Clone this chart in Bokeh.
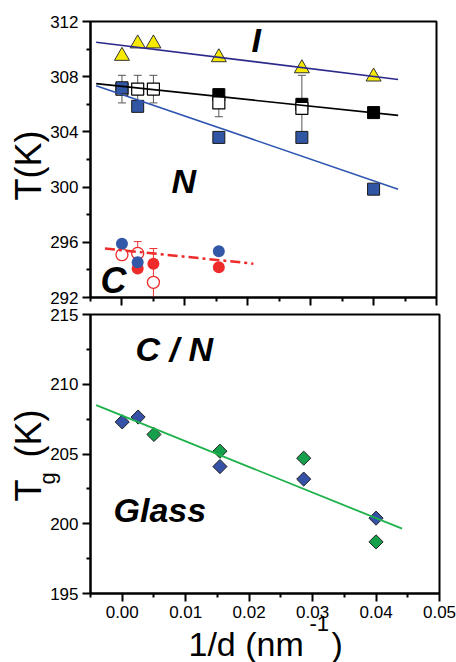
import numpy as np
from bokeh.plotting import figure
from bokeh.models import Range1d, FixedTicker, Label, GridBox, Plot
from bokeh.embed import file_html
from bokeh.resources import INLINE

# ---------------- data ----------------
x_I = [0.0, 0.0025, 0.005, 0.0154, 0.0286, 0.04]
T_I = [309.5, 310.4, 310.4, 309.4, 308.6, 308.0]

x_N = [0.0, 0.0025, 0.0154, 0.0286, 0.04]
T_N = [307.2, 305.85, 303.6, 303.6, 299.85]

x_open = [0.0, 0.0025, 0.005, 0.0154, 0.0286]
T_open = [307.1, 307.1, 307.1, 306.1, 305.7]
err_open = [1.0, 1.0, 1.0, 1.0, 2.4]

x_black = [0.0154, 0.0286, 0.04]
T_black = [306.7, 306.0, 305.4]

x_Cblue = [0.0, 0.0025, 0.0154]
T_Cblue = [295.9, 294.55, 295.35]
x_Cred = [0.0025, 0.005, 0.0154]
T_Cred = [294.1, 294.45, 294.2]
x_Copen = [0.0, 0.0025, 0.005]
T_Copen = [295.1, 295.2, 293.1]
err_Copen = [0.0, 0.85, 2.45]

fit_x = [-0.0041, 0.0439]
fit_I = [310.5, 307.8]
fit_black = [307.5, 305.2]
fit_N = [307.35, 299.85]
fit_C_x = [-0.0027, 0.0209]
fit_C = [295.55, 294.45]

x_Gblue = [0.0, 0.0025, 0.0154, 0.0286, 0.04]
Tg_blue = [207.3, 207.65, 204.1, 203.2, 200.4]
x_Ggreen = [0.005, 0.0154, 0.0286, 0.04]
Tg_green = [206.4, 205.2, 204.7, 198.7]
fit_g_x = [-0.0041, 0.0441]
fit_g = [208.5, 199.65]

x_ticks = [0.0, 0.01, 0.02, 0.03, 0.04, 0.05]
x_minor = [-0.005, 0.005, 0.015, 0.025, 0.035, 0.045]
x_tick_labels = ["0.00", "0.01", "0.02", "0.03", "0.04", "0.05"]
top_y_ticks = [292, 296, 300, 304, 308, 312]
top_y_minor = [294, 298, 302, 306, 310]
bot_y_ticks = [195, 200, 205, 210, 215]
bot_y_minor = [197.5, 202.5, 207.5, 212.5]

FONT = "Liberation Sans"
W, H = 456, 662
HAS_FRAME_ALIGN = "frame_align" in Plot.properties()


def no_align(p):
    if HAS_FRAME_ALIGN:
        p.frame_align = False


def style_axes(p):
    for ax in (p.xaxis[0], p.yaxis[0]):
        ax.axis_line_width = 2
        ax.axis_line_color = "black"
        ax.major_tick_line_width = 2
        ax.minor_tick_line_width = 2
        ax.major_tick_in = 0
        ax.major_tick_out = 8
        ax.minor_tick_in = 0
        ax.minor_tick_out = 4
        ax.major_label_text_font = FONT
        ax.major_label_text_font_size = "17px"
        ax.major_label_text_color = "black"
    p.xgrid.visible = False
    p.ygrid.visible = False
    p.outline_line_color = "black"
    p.outline_line_width = 2
    p.background_fill_color = "white"
    no_align(p)


# ---------------- top panel (bottom layer, full page canvas) ----------------
p1 = figure(width=W, height=H, x_range=Range1d(-0.005, 0.05),
            y_range=Range1d(292, 312), output_backend="svg",
            toolbar_location=None, min_border_left=90, min_border_right=20,
            min_border_top=21, min_border_bottom=H - 21 - 276)
style_axes(p1)
p1.border_fill_color = "white"
p1.xaxis.ticker = FixedTicker(ticks=x_ticks, minor_ticks=x_minor)
p1.xaxis.major_label_overrides = {t: "" for t in x_ticks}
p1.xaxis.major_label_standoff = 0
p1.yaxis.ticker = FixedTicker(ticks=top_y_ticks, minor_ticks=top_y_minor)
p1.yaxis.major_label_standoff = 4

# error bars of open squares
lo = [t - e for t, e in zip(T_open, err_open)]
hi = [t + e for t, e in zip(T_open, err_open)]
p1.segment(x0=x_open, y0=lo, x1=x_open, y1=hi, line_color="#555555", line_width=1)
p1.scatter(x=x_open + x_open, y=lo + hi, marker="dash", size=8,
           line_color="#555555", line_width=1)

p1.scatter(x=x_black, y=T_black, marker="square", size=12,
           fill_color="black", line_color="black")
p1.scatter(x=x_open, y=T_open, marker="square", size=12,
           fill_color="white", line_color="black", line_width=1.2)
p1.scatter(x=x_N, y=T_N, marker="square", size=12,
           fill_color="#3156a4", line_color="#1a1a1a", line_width=1)
p1.scatter(x=x_I, y=T_I, marker="triangle", size=15,
           fill_color="#f7ea00", line_color="#333333", line_width=1)

# C phase points
clo = [t - e for t, e in zip(T_Copen, err_Copen)]
chi = [t + e for t, e in zip(T_Copen, err_Copen)]
p1.segment(x0=x_Copen[1:], y0=clo[1:], x1=x_Copen[1:], y1=chi[1:],
           line_color="#ee3333", line_width=1)
p1.scatter(x=x_Copen[1:] + x_Copen[1:], y=clo[1:] + chi[1:], marker="dash",
           size=8, line_color="#ee3333", line_width=1)
p1.scatter(x=x_Cred, y=T_Cred, marker="circle", size=12,
           fill_color="#ee2a2a", line_color=None)
p1.scatter(x=x_Copen, y=T_Copen, marker="circle", size=12,
           fill_color="white", line_color="#ee2a2a", line_width=1.3)
p1.scatter(x=x_Cblue, y=T_Cblue, marker="circle", size=12,
           fill_color="#3358a8", line_color=None)

# fit lines
p1.line(x=fit_x, y=fit_I, line_color="#2b2a8c", line_width=1.6)
p1.line(x=fit_x, y=fit_black, line_color="black", line_width=1.6)
p1.line(x=fit_x, y=fit_N, line_color="#2d55b0", line_width=1.6)
p1.line(x=fit_C_x, y=fit_C, line_color="#ee2a2a", line_width=2.5,
        line_dash="10 4 3 4")


def t_xy(px, py):
    return (-0.005 + (px - 90) * 0.055 / 346.0, 312 - (py - 21) * 20 / 276.0)


def b_xy(px, py):
    return (-0.005 + (px - 90) * 0.055 / 349.0, 215 - (py - 314) * 20 / 279.0)


def add_label(p, conv, px, py, text, size, style="bold italic", angle=0.0):
    x, y = conv(px, py)
    p.add_layout(Label(x=x, y=y, text=text, text_font=FONT,
                       text_font_size=size, text_font_style=style,
                       text_color="black", text_baseline="middle",
                       text_align="left", angle=angle))


add_label(p1, t_xy, 251, 39, "I", "34px")
add_label(p1, t_xy, 171, 180, "N", "34px")
add_label(p1, t_xy, 100, 280, "C", "36px")

# ---------------- bottom panel (transparent border, full page canvas) ----------------
p2 = figure(width=W, height=H, x_range=Range1d(-0.005, 0.05),
            y_range=Range1d(195, 215), output_backend="svg",
            toolbar_location=None, min_border_left=90, min_border_right=17,
            min_border_top=314, min_border_bottom=H - 314 - 279)
style_axes(p2)
p2.border_fill_color = None
p2.xaxis.ticker = FixedTicker(ticks=x_ticks, minor_ticks=x_minor)
p2.xaxis.major_label_overrides = {t: l for t, l in zip(x_ticks, x_tick_labels)}
p2.xaxis.major_label_standoff = 4
p2.yaxis.ticker = FixedTicker(ticks=bot_y_ticks, minor_ticks=bot_y_minor)
p2.yaxis.major_label_standoff = 4

p2.scatter(x=x_Gblue, y=Tg_blue, marker="square", angle=np.pi / 4, size=10,
           fill_color="#3552a6", line_color="#222222", line_width=1)
p2.scatter(x=x_Ggreen, y=Tg_green, marker="square", angle=np.pi / 4, size=10,
           fill_color="#17a04b", line_color="#222222", line_width=1)
p2.line(x=fit_g_x, y=fit_g, line_color="#1eb24a", line_width=1.8)

add_label(p2, b_xy, 135, 348, "C / N", "34px")
add_label(p2, b_xy, 113, 509, "Glass", "34px")

# ---------------- axis titles: transparent overlay over the whole page ----------------
lab = figure(width=W, height=H, x_range=Range1d(0, W), y_range=Range1d(0, H),
             output_backend="svg", toolbar_location=None, min_border=0,
             x_axis_type=None, y_axis_type=None)
lab.outline_line_color = None
lab.background_fill_color = None
lab.border_fill_color = None
lab.grid.visible = False
no_align(lab)


def page_xy(px, py):
    return (px, H - py)


add_label(lab, page_xy, 28, 200, "T(K)", "36px", "normal", np.pi / 2)
add_label(lab, page_xy, 28, 501, "T", "36px", "normal", np.pi / 2)
add_label(lab, page_xy, 47, 484, "g", "22px", "normal", np.pi / 2)
add_label(lab, page_xy, 28, 457, "(K)", "36px", "normal", np.pi / 2)
add_label(lab, page_xy, 188, 643, "1/d (nm", "34px", "normal")
add_label(lab, page_xy, 309, 623, "-1", "22px", "normal")
add_label(lab, page_xy, 331, 643, ")", "34px", "normal")

layout = GridBox(children=[(p1, 0, 0), (p2, 0, 0), (lab, 0, 0)])
open("out.html", "w").write(file_html(layout, INLINE))
